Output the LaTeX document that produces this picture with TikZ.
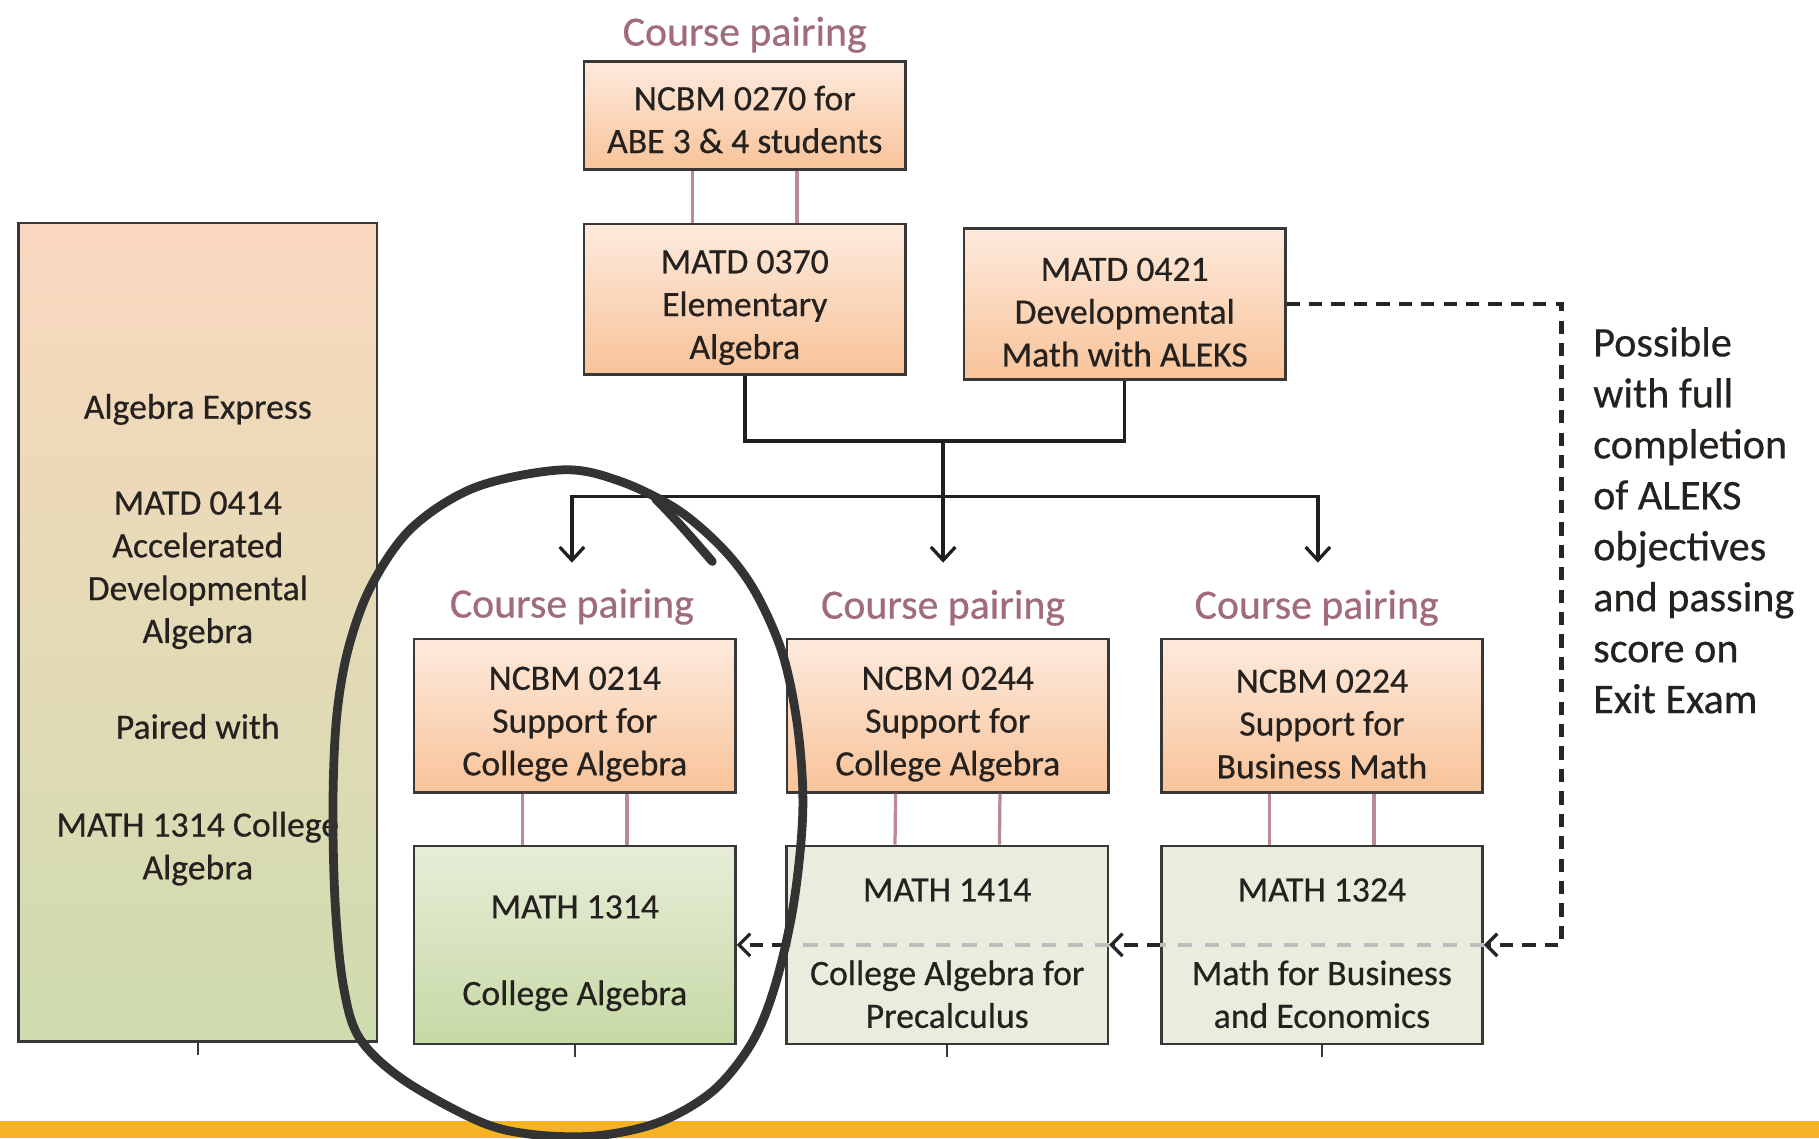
\documentclass[tikz,border=0pt]{standalone}
\usepackage{fontspec}
\setmainfont{Carlito}[FakeBold=0.5]
\usetikzlibrary{arrows.meta,calc}

\definecolor{boxline}{HTML}{383838}
\definecolor{peachtop}{HTML}{FDEADD}
\definecolor{peachbot}{HTML}{F8C399}
\definecolor{lefttop}{HTML}{FAD8BF}
\definecolor{leftbot}{HTML}{CEDCAE}
\definecolor{sagetop}{HTML}{E7EDD8}
\definecolor{sagebot}{HTML}{C6D9A5}
\definecolor{sage}{HTML}{E8EDDD}
\definecolor{pairline}{HTML}{BC8A95}
\definecolor{pairtext}{HTML}{A06C7D}
\definecolor{inktext}{HTML}{24211E}
\definecolor{barcol}{HTML}{F5B223}
\definecolor{penink}{HTML}{333333}
\definecolor{faintdash}{HTML}{BDBDBD}

% invisible strut that lowers the first line of a box a little
\newcommand\liftline[1][19.5pt]{\rule{0pt}{#1}}

\tikzset{
  course/.style={draw=boxline, line width=1.2pt, inner sep=0pt, align=center,
    text=inktext, font=\fontsize{17.5}{21}\selectfont, minimum width=5.54cm},
  prep/.style={course, top color=peachtop, bottom color=peachbot},
  credit/.style={course, minimum height=3.42cm},
  pairlabel/.style={text=pairtext, font=\fontsize{20.5}{24}\selectfont, inner sep=0pt},
  pairlink/.style={draw=pairline, line width=1.6pt},
  flow/.style={draw=black!88, line width=1.7pt},
  flowarrow/.style={flow, -{Straight Barb[length=6.5pt,width=12pt,line width=1.6pt]}},
  optional/.style={draw=black!85, line width=2pt, dash pattern=on 6.5pt off 4.5pt},
  optarrow/.style={optional, -{Straight Barb[length=5.5pt,width=11pt,line width=1.6pt]}},
  faint/.style={draw=faintdash, line width=1.8pt, dash pattern=on 7pt off 6pt},
  tick/.style={draw=boxline, line width=1.2pt},
  penstroke/.style={draw=penink, line width=4.3pt, line cap=round, line join=round},
}

\begin{document}
\begin{tikzpicture}[x=0.02cm, y=-0.02cm]
\useasboundingbox (0,0) rectangle (1568,981);
\fill[white] (0,0) rectangle (1568,981);

% accelerated track on the left
\node[course, top color=lefttop, bottom color=leftbot, minimum width=6.18cm, minimum height=14.12cm]
  (express) at (170.5,545)
  {\liftline Algebra Express\\[26pt] MATD 0414\\ Accelerated\\ Developmental\\ Algebra\\[26pt]
   Paired with\\[27pt] MATH 1314 College\\ Algebra};

% developmental courses
\node[pairlabel] (lab0) at (642,30) {Course pairing};
\node[prep, minimum height=1.86cm] (n0270) at (642,99.5) {\liftline[16pt]NCBM 0270 for\\ABE 3 \& 4 students};
\node[prep, minimum height=2.6cm] (m0370) at (642,258) {\liftline MATD 0370\\Elementary\\Algebra};
\node[prep, minimum height=2.6cm] (m0421) at (969.5,262) {\liftline MATD 0421\\Developmental\\Math with ALEKS};

% support courses
\node[pairlabel] (lab1) at (493,523) {Course pairing};
\node[pairlabel] (lab2) at (813,524) {Course pairing};
\node[pairlabel] (lab3) at (1135,524) {Course pairing};
\node[prep, minimum height=2.64cm] (n0214) at (495.5,617) {\liftline NCBM 0214\\Support for\\College Algebra};
\node[prep, minimum height=2.64cm] (n0244) at (817,617) {\liftline NCBM 0244\\Support for\\College Algebra};
\node[prep, minimum height=2.64cm] (n0224) at (1139.5,617) {\liftline NCBM 0224\\Support for\\Business Math};

% credit courses
\node[credit, top color=sagetop, bottom color=sagebot] (m1314) at (495.5,814.5) {\liftline MATH 1314\\[21.5pt]College Algebra};
\node[credit, fill=sage] (m1414) at (816.5,814.5) {\liftline MATH 1414\\[20pt]College Algebra for\\Precalculus};
\node[credit, fill=sage] (m1324) at (1139.5,814.5) {\liftline MATH 1324\\[20pt]Math for Business\\and Economics};

% note beside the optional route
\node[anchor=west, align=left, inner sep=0pt, text=inktext, font=\fontsize{20.7}{25}\selectfont]
  (note) at (1373,448.5)
  {Possible\\with full\\completion\\of ALEKS\\objectives\\and passing\\score on\\Exit Exam};

% pairing links
\foreach \up/\down in {n0270/m0370, n0214/m1314, n0244/m1414, n0224/m1324}{
  \draw[pairlink] ([xshift=-0.9cm]\up.south) -- ([xshift=-0.9cm]\down.north);
  \draw[pairlink] ([xshift=0.9cm]\up.south) -- ([xshift=0.9cm]\down.north);
}

% merge and split of the main route
\coordinate (join) at (813,380);
\coordinate (split) at (813,428);
\coordinate (tipA) at (493,485);
\coordinate (tipB) at (813,485);
\coordinate (tipC) at (1136,485);
\draw[flow] (m0370.south) |- (join) -| (m0421.south);
\draw[flow] (join) -- (split);
\draw[flowarrow] (split) -| (tipA);
\draw[flowarrow] (split) -| (tipC);
\draw[flowarrow] (split) -- (tipB);

% optional route through the credit courses
\coordinate (dturn) at (1346,262);
\draw[optarrow] (m0421.east) -- (dturn) |- (m1324.east);
\draw[faint] (m1324.east) -- (m1324.west);
\draw[optarrow] (m1324.west) -- (m1414.east);
\draw[faint] (m1414.east) -- (m1414.west);
\draw[optarrow] (m1414.west) -- (m1314.east);

% small stubs under the bottom row
\foreach \b in {express, m1314, m1414, m1324}{
  \draw[tick] (\b.south) -- ++(0,10);
}

% bottom rule
\fill[barcol] (0,966) rectangle (1568,981);

% hand-drawn loop around the college algebra pairing
\draw[penstroke] plot[smooth cycle, tension=0.55] coordinates {
  (485,405) (535,415) (585,440) (625,475) (652,512) (675,565) (688,630)
  (692,700) (684,780) (668,850) (648,899) (615,940) (569,967) (515,979)
  (460,978) (414,967) (348,931) (310,895) (296,850) (289,780) (287,696)
  (290,620) (300,560) (320,505) (355,455) (410,420)};
\draw[penstroke] (565,430) .. controls (585,450) and (600,468) .. (614,484);
\end{tikzpicture}
\end{document}
